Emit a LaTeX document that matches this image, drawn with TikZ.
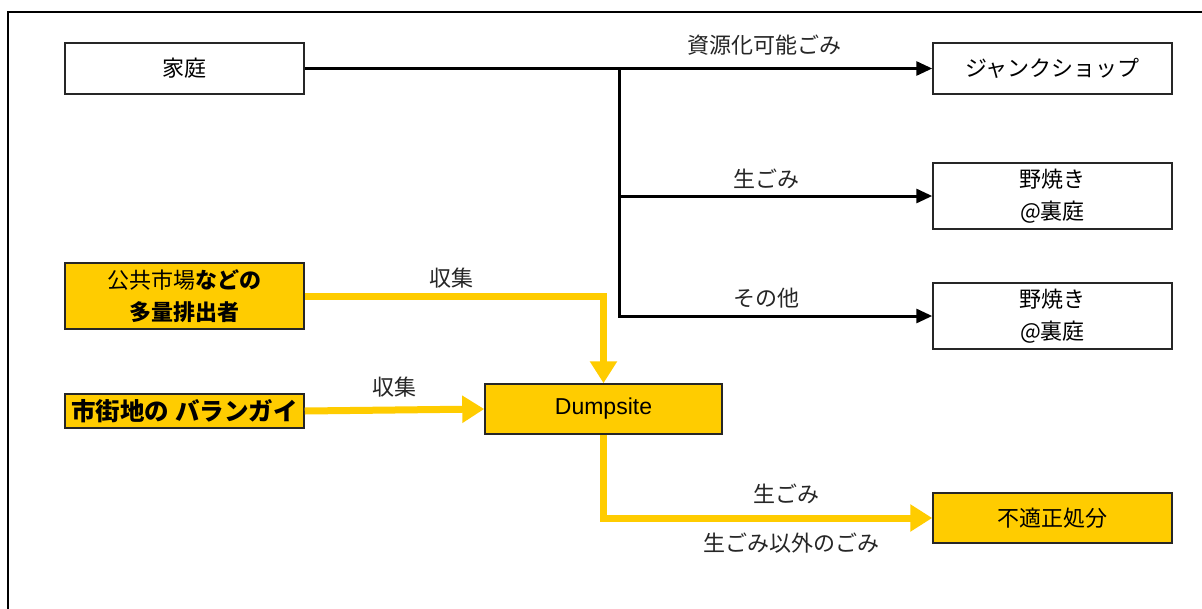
\documentclass[tikz,border=0pt]{standalone}
\usepackage{fontspec}
\setmainfont{Noto Sans CJK JP}
\newfontfamily\arialfont{Liberation Sans}
\usetikzlibrary{arrows.meta}
\definecolor{ylw}{HTML}{FFCC00}
\tikzset{
  box/.style={draw=black!85, line width=1.5pt, minimum width=239pt, minimum height=51pt, inner sep=0pt, align=center, font=\fontsize{22}{32}\selectfont},
  tallbox/.style={box, minimum height=66pt},
  ybox/.style={box, fill=ylw},
  blk/.style={line width=3pt, -{Triangle[length=16pt,width=14pt]}},
  blkline/.style={line width=3pt},
  yel/.style={draw=ylw, line width=7pt, -{Triangle[length=22pt,width=26pt]}},
  lbl/.style={font=\fontsize{22}{26}\selectfont, inner sep=0pt, text=black!85}
}
\begin{document}
\begin{tikzpicture}[x=1pt,y=-1pt]
\useasboundingbox (0,0) rectangle (1202,608);
\fill[white] (0,0) rectangle (1202,608);
% outer frame
\draw[line width=2.5pt] (8,630) -- (8,12) -- (1220,12);

% nodes
\node[box] (home) at (184.5,68.5) {家庭};
\node[box] (junk) at (1052.5,68.5) {ジャンクショップ};
\node[tallbox] (burn1) at (1052.5,196) {野焼き\\@裏庭};
\node[tallbox] (burn2) at (1052.5,316) {野焼き\\@裏庭};
\node[ybox, minimum height=66pt] (pub) at (184.5,296) {公共市場{\bfseries などの}\\{\bfseries 多量排出者}};
\node[ybox, minimum height=34pt, font=\fontsize{24.5}{28}\selectfont\bfseries] (bar) at (184.5,411) {市街地の バランガイ};
\node[ybox, minimum width=237pt, minimum height=50pt, font=\fontsize{23}{27}\selectfont\arialfont] (dump) at (603.5,409) {Dumpsite};
\node[ybox, minimum height=50pt] (waste) at (1052.5,518) {不適正処分};

% black connectors
\coordinate (br) at (619,68.5);
\draw[blk] (home.east) -- (junk.west);
\draw[blkline] (br) -- (619,317.5);
\draw[blk] (br |- burn1.west) -- (burn1.west);
\draw[blk] (br |- burn2.west) -- (burn2.west);

% yellow connectors
\draw[yel] (pub.east) -| (dump.north);
\draw[yel] (bar.east) -- (dump.west);
\draw[yel] (dump.south) |- (waste.west);

% labels
\node[lbl] (l1) at (764,45) {資源化可能ごみ};
\node[lbl] (l2) at (766,179) {生ごみ};
\node[lbl] (l3) at (766,298) {その他};
\node[lbl] (l4) at (451,278) {収集};
\node[lbl] (l5) at (394,387) {収集};
\node[lbl] (l6) at (786,494) {生ごみ};
\node[lbl] (l7) at (791,543) {生ごみ以外のごみ};
\end{tikzpicture}
\end{document}
